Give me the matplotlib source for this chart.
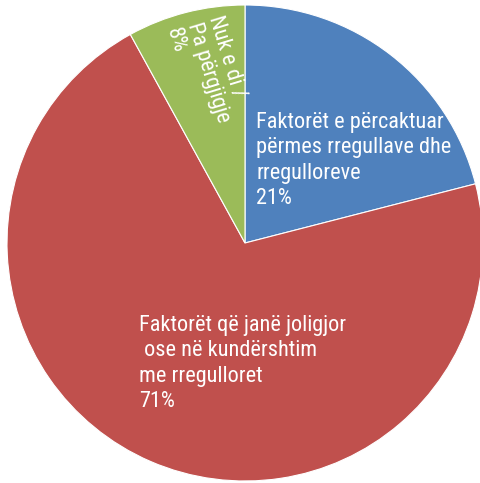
import matplotlib
matplotlib.use("Agg")
import matplotlib.pyplot as plt

plt.rcParams['font.family'] = ['Roboto Condensed', 'DejaVu Sans']

# data
labels = ["Faktorët e përcaktuar\npërmes rregullave dhe\nrregulloreve\n21%",
          "Faktorët që janë joligjor\n ose në kundërshtim\nme rregulloret\n71%",
          "Nuk e di /\nPa përgjigje\n8%"]
values = [21, 71, 8]
colors = ['#4F81BD', '#C0504D', '#9BBB59']

W, H = 481, 483
CX, CY, R = 245, 243, 238


def px(x, y):
    return (x - CX) / R, (CY - y) / R


fig = plt.figure(figsize=(W / 100, H / 100), dpi=100)
ax = fig.add_axes([0, 0, 1, 1])
ax.pie(values, colors=colors, startangle=90, counterclock=False, radius=1,
       wedgeprops=dict(edgecolor='white', linewidth=0.8))
ax.set_xlim(px(0, 0)[0], px(W, 0)[0])
ax.set_ylim(px(0, H)[1], px(0, 0)[1])
ax.set_aspect('auto')
ax.axis('off')

fs = 16
x, y = px(256, 112)
ax.text(x, y, labels[0], color='white', fontsize=fs, ha='left', va='top', linespacing=1.27)
x, y = px(139, 315)
ax.text(x, y, labels[1], color='white', fontsize=fs, ha='left', va='top', linespacing=1.27)
x, y = px(224, 13)
ax.text(x, y, labels[2], color='white', fontsize=fs, ha='left', va='top', linespacing=1.05,
        rotation=-73, rotation_mode='anchor')

fig.savefig("out.png", dpi=100)
